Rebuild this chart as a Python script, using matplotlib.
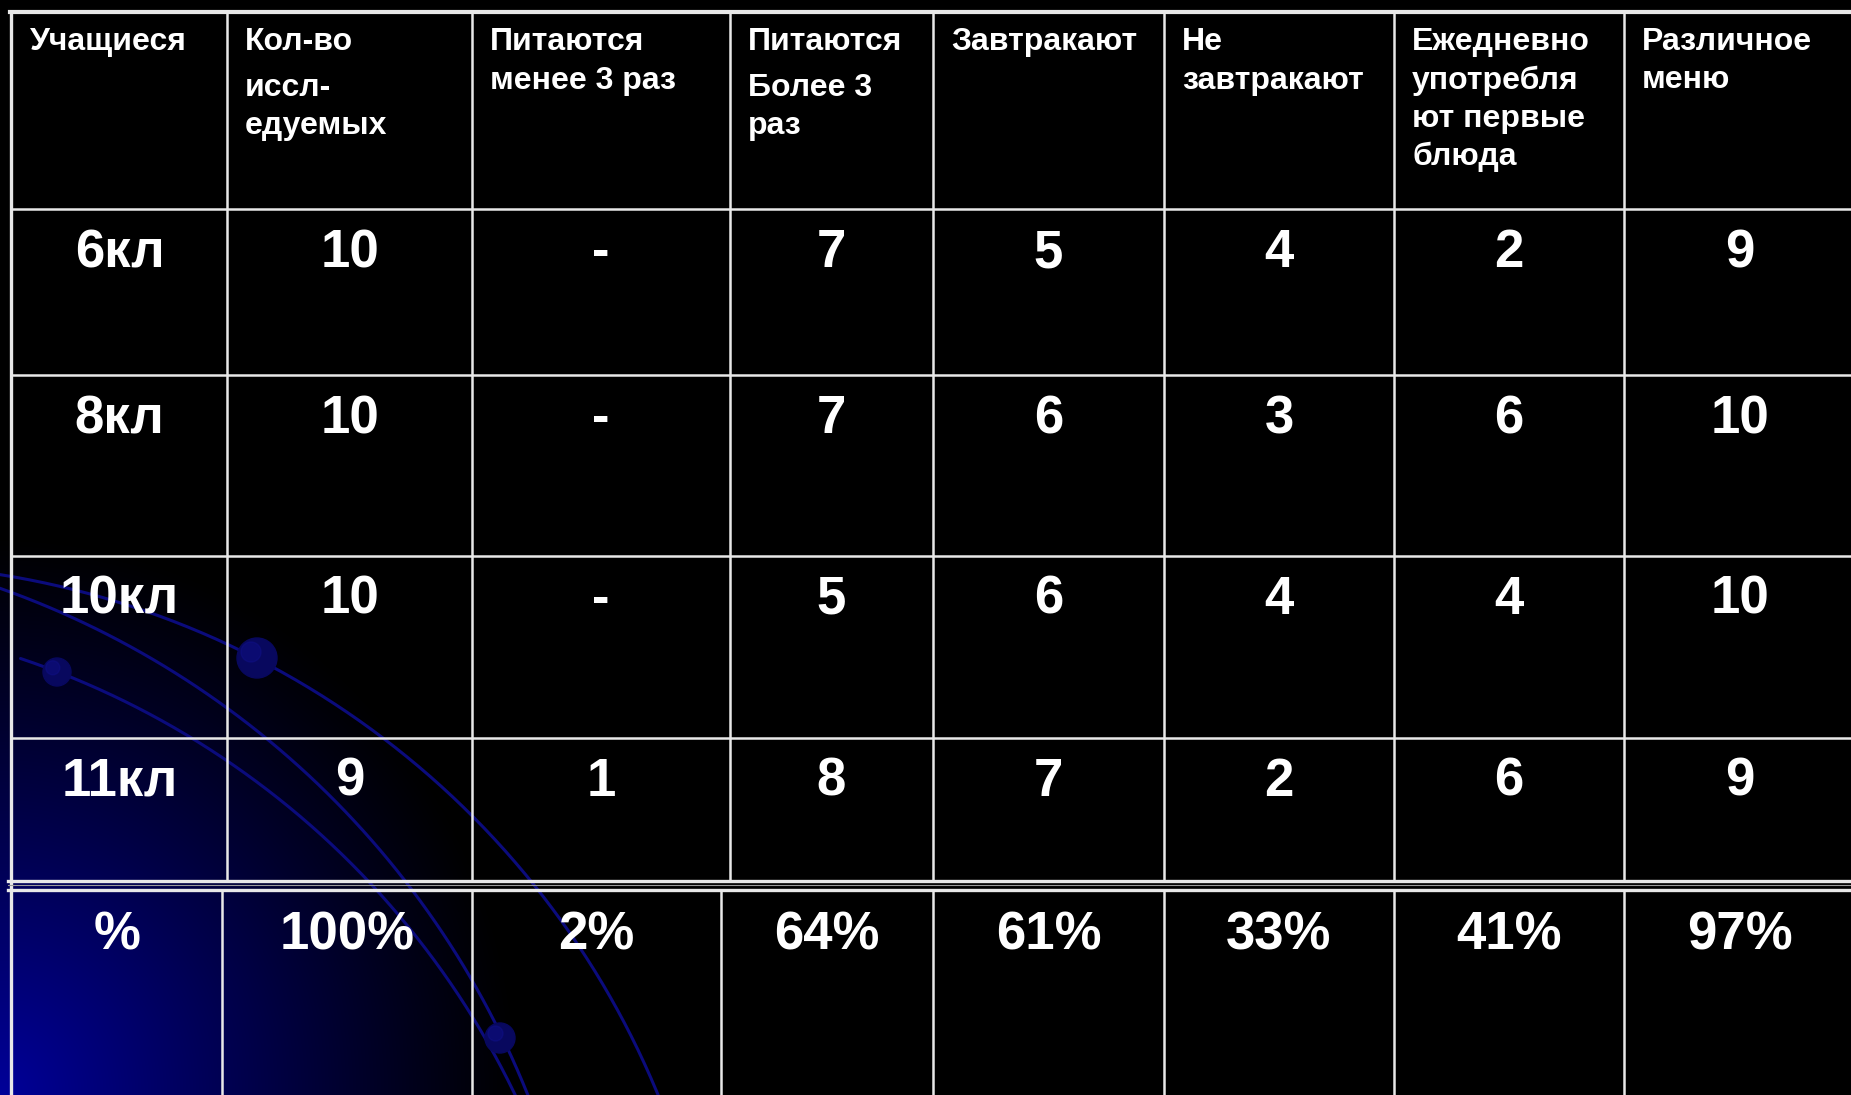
import matplotlib
matplotlib.use('Agg')
import matplotlib.pyplot as plt
from matplotlib.patches import Circle
import numpy as np

plt.rcParams['font.family'] = ['Liberation Sans', 'DejaVu Sans']

# table content
headers = [
    ['Учащиеся'],
    ['Кол-во', 'иссл-', 'едуемых'],
    ['Питаются', 'менее 3 раз'],
    ['Питаются', 'Более 3', 'раз'],
    ['Завтракают'],
    ['Не', 'завтракают'],
    ['Ежедневно', 'употребля', 'ют первые', 'блюда'],
    ['Различное', 'меню'],
]
classes = ['6кл', '8кл', '10кл', '11кл']
values = [
    ['10', '-', '7', '5', '4', '2', '9'],
    ['10', '-', '7', '6', '3', '6', '10'],
    ['10', '-', '5', '6', '4', '4', '10'],
    ['9', '1', '8', '7', '2', '6', '9'],
]
percent = ['%', '100%', '2%', '64%', '61%', '33%', '41%', '97%']

arc1 = [(0, 575), (160, 617), (257, 658), (383, 733), (470, 817), (527, 880), (583, 953), (617, 1010), (660, 1095)]
arc2 = [(0, 588), (117, 640), (183, 677), (233, 713), (310, 777), (360, 827), (403, 880), (470, 973), (527, 1095)]
arc3 = [(20, 660), (57, 672), (127, 700), (187, 733), (233, 767), (300, 813), (363, 877), (403, 927), (467, 1007), (517, 1095)]
balls = [(257, 658, 20), (57, 672, 14), (500, 1038, 15)]

W, H = 1851, 1095
fig = plt.figure(figsize=(W / 100, H / 100), dpi=100)
ax = fig.add_axes([0, 0, 1, 1])
ax.set_xlim(0, W)
ax.set_ylim(H, 0)
ax.axis('off')

# blue glow in bottom-left corner
yy, xx = np.mgrid[0:H, 0:W]
r = np.sqrt((xx / 520.0) ** 2 + ((H - yy) / 560.0) ** 2)
glow = np.clip(1 - r, 0, 1) ** 1.1 * 0.6
img = np.zeros((H, W, 3))
img[..., 2] = glow
ax.imshow(img, extent=(0, W, H, 0), zorder=0, interpolation='bilinear')


def fit_circle(pts):
    p = np.array(pts, dtype=float)
    A = np.column_stack([p[:, 0], p[:, 1], np.ones(len(p))])
    b = -(p[:, 0] ** 2 + p[:, 1] ** 2)
    D, E, F = np.linalg.lstsq(A, b, rcond=None)[0]
    cx, cy = -D / 2, -E / 2
    return cx, cy, np.sqrt(cx ** 2 + cy ** 2 - F)


for pts in (arc1, arc2, arc3):
    cx, cy, rad = fit_circle(pts)
    a0 = np.arctan2(pts[0][1] - cy, pts[0][0] - cx)
    a1 = np.arctan2(pts[-1][1] - cy + 20, pts[-1][0] - cx + 10)
    t = np.linspace(a0, a1, 300)
    ax.plot(cx + rad * np.cos(t), cy + rad * np.sin(t), color='#0b0b7c', lw=2.2,
            solid_capstyle='round', zorder=1)

for bx, by, br in balls:
    ax.add_patch(Circle((bx, by), br, color='#08085e', zorder=2))
    ax.add_patch(Circle((bx - br * 0.3, by - br * 0.3), br * 0.5, color='#10108a', alpha=0.45, zorder=2))

# grid geometry
col_top = [12, 227, 472, 730, 933, 1164, 1394, 1624, 1855]
col_bot = [12, 222, 472, 721, 933, 1164, 1394, 1624, 1855]
row_y = [12, 209, 375, 556, 738, 880]
bot_top = 891
lc = '#e8e8e8'

for x in col_top[1:-1]:
    ax.plot([x, x], [row_y[0], row_y[-1]], color=lc, lw=1.8, zorder=3)
for x in col_bot[1:-1]:
    ax.plot([x, x], [bot_top, H + 5], color=lc, lw=1.8, zorder=3)
for y in row_y[1:-1]:
    ax.plot([12, W + 5], [y, y], color=lc, lw=1.8, zorder=3)
ax.plot([10, W + 5], [row_y[0], row_y[0]], color=lc, lw=3.0, zorder=3)
ax.plot([11, 11], [row_y[0], H + 5], color=lc, lw=2.4, zorder=3)
ax.plot([8, W + 5], [880.5, 880.5], color=lc, lw=2.4, zorder=3)
ax.plot([8, W + 5], [885, 885], color='#9a9a9a', lw=0.8, zorder=3)
ax.plot([8, W + 5], [889.5, 889.5], color=lc, lw=2.4, zorder=3)

# header text
for j, lines in enumerate(headers):
    gap = 7 if j in (1, 3) else 0
    for i, line in enumerate(lines):
        y = 50 + 38.5 * i + (gap if i >= 1 else 0)
        ax.text(col_top[j] + 18, y, line, color='white', fontsize=23, fontweight='bold',
                ha='left', va='baseline', zorder=4)

# body rows
for i, cls in enumerate(classes):
    row = [cls] + values[i]
    ytop = row_y[i + 1]
    for j, s in enumerate(row):
        xc = (col_top[j] + col_top[j + 1]) / 2
        ax.text(xc, ytop + 58, s, color='white', fontsize=38, fontweight='bold',
                ha='center', va='baseline', zorder=4)

for j, s in enumerate(percent):
    xc = (col_bot[j] + col_bot[j + 1]) / 2
    ax.text(xc, bot_top + 58, s, color='white', fontsize=38, fontweight='bold',
            ha='center', va='baseline', zorder=4)

fig.savefig('out.png', dpi=100, facecolor='black')
